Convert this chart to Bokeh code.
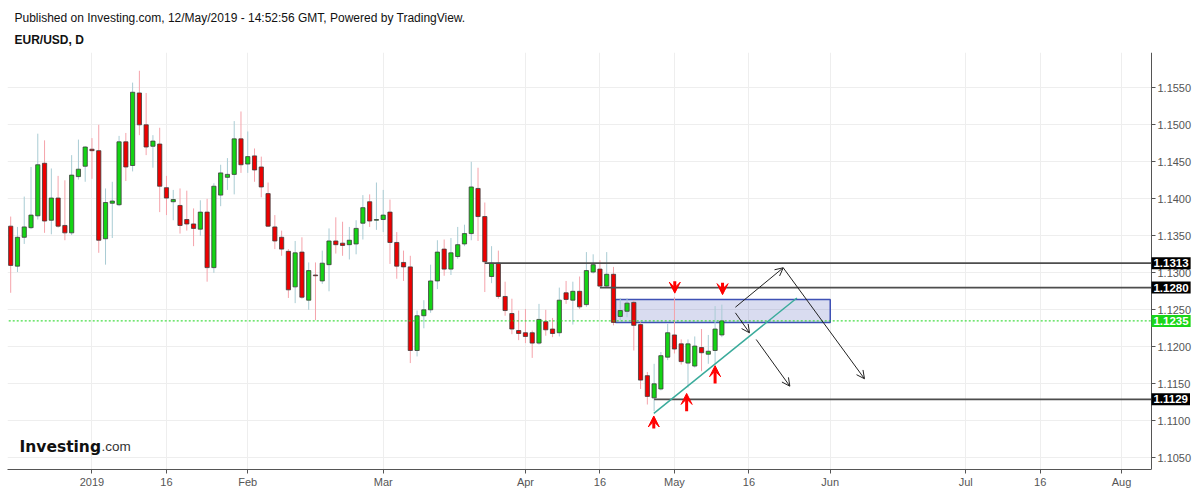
import numpy as np
from bokeh.plotting import figure
from bokeh.models import (Range1d, FixedTicker, NumeralTickFormatter, Label, Arrow,
                          OpenHead, VeeHead, BoxAnnotation, Title)
from bokeh.embed import file_html
from bokeh.resources import INLINE

# ---------------- data (EUR/USD daily, weekday index from 14 Dec 2018) ----------------
opens = [1.1363, 1.1309, 1.1348, 1.1361, 1.1377, 1.1448, 1.1371, 1.1401, 1.1364, 1.1354,
         1.1430, 1.1444, 1.1467, 1.1465, 1.1346, 1.1394, 1.1392, 1.1477, 1.1445, 1.1543,
         1.1500, 1.1471, 1.1474, 1.1415, 1.1396, 1.1391, 1.1372, 1.1366, 1.1359, 1.1382,
         1.1307, 1.1405, 1.1429, 1.1433, 1.1481, 1.1447, 1.1458, 1.1443, 1.1407, 1.1362,
         1.1348, 1.1329, 1.1281, 1.1328, 1.1263, 1.1297, 1.1289, 1.1311, 1.1343, 1.1340,
         1.1338, 1.1339, 1.1367, 1.1396, 1.1371, 1.1372, 1.1382, 1.1341, 1.1314, 1.1308,
         1.1195, 1.1242, 1.1250, 1.1289, 1.1332, 1.1305, 1.1322, 1.1339, 1.1353, 1.1414,
         1.1376, 1.1295, 1.1313, 1.1268, 1.1245, 1.1222, 1.1219, 1.1219, 1.1205, 1.1234,
         1.1224, 1.1219, 1.1273, 1.1263, 1.1275, 1.1257, 1.1301, 1.1305, 1.1282, 1.1298,
         1.1241, 1.1248, 1.1260, 1.1230, 1.1161, 1.1131, 1.1143, 1.1186, 1.1216, 1.1204,
         1.1178, 1.1174, 1.1199, 1.1190, 1.1195, 1.1216]
highs = [1.1376, 1.1362, 1.1403, 1.1443, 1.1488, 1.1479, 1.1441, 1.1431, 1.1425, 1.1459,
         1.1480, 1.1471, 1.1482, 1.1500, 1.1414, 1.1423, 1.1485, 1.1489, 1.1557, 1.1573,
         1.1543, 1.1486, 1.1496, 1.1431, 1.1412, 1.1414, 1.1411, 1.1387, 1.1398, 1.1400,
         1.1421, 1.1446, 1.1455, 1.1505, 1.1518, 1.1491, 1.1468, 1.1457, 1.1422, 1.1378,
         1.1357, 1.1332, 1.1343, 1.1348, 1.1314, 1.1314, 1.1330, 1.1360, 1.1375, 1.1369,
         1.1362, 1.1371, 1.1405, 1.1406, 1.1422, 1.1412, 1.1399, 1.1355, 1.1330, 1.1323,
         1.1249, 1.1263, 1.1311, 1.1344, 1.1345, 1.1347, 1.1362, 1.1365, 1.1450, 1.1442,
         1.1395, 1.1336, 1.1330, 1.1288, 1.1265, 1.1249, 1.1251, 1.1222, 1.1258, 1.1250,
         1.1239, 1.1280, 1.1289, 1.1288, 1.1295, 1.1328, 1.1325, 1.1317, 1.1328, 1.1308,
         1.1266, 1.1266, 1.1263, 1.1233, 1.1166, 1.1177, 1.1193, 1.1231, 1.1267, 1.1210,
         1.1210, 1.1214, 1.1224, 1.1216, 1.1255, 1.1257]
lows = [1.1273, 1.1301, 1.1339, 1.1359, 1.1372, 1.1354, 1.1352, 1.1361, 1.1344, 1.1351,
        1.1426, 1.1423, 1.1427, 1.1327, 1.1311, 1.1347, 1.1390, 1.1424, 1.1437, 1.1486,
        1.1459, 1.1442, 1.1382, 1.1378, 1.1371, 1.1353, 1.1357, 1.1336, 1.1350, 1.1288,
        1.1300, 1.1390, 1.1412, 1.1406, 1.1435, 1.1435, 1.1423, 1.1402, 1.1362, 1.1332,
        1.1323, 1.1266, 1.1259, 1.1265, 1.1250, 1.1236, 1.1285, 1.1275, 1.1326, 1.1323,
        1.1318, 1.1325, 1.1345, 1.1362, 1.1358, 1.1355, 1.1312, 1.1292, 1.1289, 1.1178,
        1.1187, 1.1225, 1.1246, 1.1278, 1.1296, 1.1297, 1.1319, 1.1336, 1.1344, 1.1343,
        1.1274, 1.1286, 1.1265, 1.1242, 1.1217, 1.1209, 1.1205, 1.1185, 1.1203, 1.1215,
        1.1213, 1.1214, 1.1258, 1.1230, 1.1251, 1.1254, 1.1299, 1.1281, 1.1281, 1.1229,
        1.1236, 1.1240, 1.1195, 1.1143, 1.1122, 1.1113, 1.1141, 1.1182, 1.1191, 1.1176,
        1.1145, 1.1172, 1.1167, 1.1177, 1.1177, 1.1213]
closes = [1.1310, 1.1348, 1.1362, 1.1378, 1.1446, 1.1370, 1.1401, 1.1363, 1.1354, 1.1432,
          1.1440, 1.1470, 1.1465, 1.1344, 1.1395, 1.1397, 1.1477, 1.1443, 1.1544, 1.1500,
          1.1470, 1.1478, 1.1417, 1.1401, 1.1399, 1.1364, 1.1366, 1.1360, 1.1382, 1.1307,
          1.1417, 1.1435, 1.1433, 1.1481, 1.1446, 1.1457, 1.1439, 1.1416, 1.1363, 1.1343,
          1.1332, 1.1277, 1.1327, 1.1267, 1.1303, 1.1296, 1.1313, 1.1343, 1.1338, 1.1337,
          1.1344, 1.1360, 1.1388, 1.1370, 1.1372, 1.1378, 1.1341, 1.1309, 1.1308, 1.1195,
          1.1242, 1.1250, 1.1289, 1.1328, 1.1305, 1.1327, 1.1338, 1.1353, 1.1416, 1.1376,
          1.1315, 1.1313, 1.1268, 1.1249, 1.1224, 1.1218, 1.1214, 1.1205, 1.1237, 1.1223,
          1.1218, 1.1263, 1.1264, 1.1275, 1.1254, 1.1303, 1.1311, 1.1282, 1.1298, 1.1233,
          1.1249, 1.1259, 1.1229, 1.1155, 1.1133, 1.1150, 1.1188, 1.1219, 1.1197, 1.1180,
          1.1204, 1.1201, 1.1192, 1.1194, 1.1224, 1.1235]

x_ticks = [12, 23, 35, 55, 76, 87, 98, 109, 121, 141, 152, 164]
x_tick_labels = ["2019", "16", "Feb", "Mar", "Apr", "16", "May", "16", "Jun", "Jul", "16", "Aug"]
y_ticks = [1.1050, 1.1100, 1.1150, 1.1200, 1.1250, 1.1300, 1.1350, 1.1400, 1.1450, 1.1500, 1.1550]

level_prices = [1.1313, 1.1280, 1.1129]
level_starts = [70, 87, 95]

zone_left, zone_right = 89.3, 121.0
zone_bottom, zone_top = 1.1233, 1.1264

trend_x = [94.96, 116.08]
trend_y = [1.1110, 1.1266]

# projection arrows: (x_start, y_start, x_end, y_end)
proj_arrows = [(107.0, 1.12535, 114.06, 1.13068),
               (114.06, 1.13068, 126.06, 1.11568),
               (107.0, 1.12459, 109.08, 1.12189),
               (110.07, 1.12099, 115.04, 1.11468)]
# red markers: (x, y_tail, y_tip)
red_marks = [(98.05, 1.12885, 1.12725),
             (105.1, 1.12865, 1.12705),
             (94.95, 1.10895, 1.11065),
             (99.8, 1.11130, 1.11370),
             (104.0, 1.11505, 1.11745)]

# ---------------- figure ----------------
W, H = 1200, 491
MB_L, MB_R, MB_T, MB_B = 7, 0, 52, 22
X_LO, X_HI = -0.472, 175.67
AXIS_X = 168.43          # where the price scale sits
FONT = "Liberation Sans"

p = figure(width=W, height=H, x_range=Range1d(X_LO, X_HI), y_range=Range1d(1.10342, 1.15977),
           y_axis_location="right", toolbar_location=None, output_backend="svg",
           min_border_left=MB_L, min_border_right=MB_R, min_border_top=MB_T,
           min_border_bottom=MB_B)
p.outline_line_color = None
p.background_fill_color = "white"

for ax in (p.xaxis[0], p.yaxis[0]):
    ax.axis_line_color = "#555555"
    ax.major_tick_line_color = "#555555"
    ax.major_tick_in = 0
    ax.major_tick_out = 4
    ax.minor_tick_line_color = None
    ax.major_label_text_font = FONT
    ax.major_label_text_font_size = "11px"
    ax.major_label_text_color = "#555555"
    ax.major_label_standoff = 2

p.yaxis.fixed_location = AXIS_X
p.xaxis.bounds = (X_LO - 1, AXIS_X)
p.xaxis.ticker = FixedTicker(ticks=x_ticks)
p.xaxis.major_label_overrides = {t: l for t, l in zip(x_ticks, x_tick_labels)}
p.yaxis.ticker = FixedTicker(ticks=y_ticks)
p.yaxis.formatter = NumeralTickFormatter(format="0.0000")
p.xgrid.ticker = FixedTicker(ticks=x_ticks)
p.ygrid.ticker = FixedTicker(ticks=y_ticks)
p.grid.grid_line_color = "#eeeeee"

# blank the price-scale strip
p.add_layout(BoxAnnotation(left=AXIS_X, fill_color="white", fill_alpha=1.0,
                           line_color=None, level="underlay"))

# header
p.add_layout(Title(text="EUR/USD, D", align="left", offset=4, standoff=5, padding=3,
                   text_font=FONT, text_font_size="12px", text_font_style="bold",
                   text_color="#111111"), "above")
p.add_layout(Title(text="Published on Investing.com, 12/May/2019 - 14:52:56 GMT, Powered by TradingView.",
                   align="left", offset=7, standoff=2, text_font=FONT, text_font_size="12px",
                   text_font_style="normal", text_color="#111111"), "above")

# zone rectangle
p.quad(left=[zone_left], right=[zone_right], bottom=[zone_bottom], top=[zone_top],
       fill_color="#3f51b5", fill_alpha=0.2, line_color="#3f51b5", line_width=1.5)

# candles
o = np.array(opens); h = np.array(highs); l = np.array(lows); c = np.array(closes)
idx = np.arange(len(o))
inc = c >= o
dec = ~inc
p.segment(idx[inc], h[inc], idx[inc], l[inc], line_color="#a9ccd4", line_width=1)
p.segment(idx[dec], h[dec], idx[dec], l[dec], line_color="#f5a3ab", line_width=1)
p.vbar(x=idx[inc], width=0.62, bottom=o[inc], top=c[inc], fill_color="#14d414",
       line_color="#3c3c3c", line_width=0.8)
p.vbar(x=idx[dec], width=0.62, bottom=c[dec], top=o[dec], fill_color="#ee0000",
       line_color="#3c3c3c", line_width=0.8)

# last price dotted line
p.segment(x0=[X_LO - 1], y0=[closes[-1]], x1=[AXIS_X], y1=[closes[-1]],
          line_color="#19d619", line_dash="2 2", line_width=1)

# horizontal levels
p.segment(x0=level_starts, y0=level_prices, x1=[AXIS_X] * len(level_prices), y1=level_prices,
          line_color="#4d4d4d", line_width=1.8)

# trend line
p.line(trend_x, trend_y, line_color="#3aab9b", line_width=1.5)

# projection arrows
for x0, y0, x1, y1 in proj_arrows:
    p.add_layout(Arrow(x_start=x0, y_start=y0, x_end=x1, y_end=y1, line_color="#222222",
                       line_width=1, end=OpenHead(size=8, line_color="#222222", line_width=1)))

# red markers
for x, y0, y1 in red_marks:
    p.add_layout(Arrow(x_start=x, y_start=y0, x_end=x, y_end=y1, line_color="#ff0000",
                       line_width=3, end=VeeHead(size=11, fill_color="#ff0000",
                                                 line_color="#ff0000", line_width=1)))

# price tags on the scale
for price in level_prices:
    p.add_layout(Label(x=AXIS_X, y=price, text=f"{price:.4f}", text_color="white",
                       text_font=FONT, text_font_size="11.5px", text_font_style="bold",
                       text_baseline="middle", background_fill_color="black", padding=2))
p.add_layout(Label(x=AXIS_X, y=closes[-1], text=f"{closes[-1]:.4f}", text_color="white",
                   text_font=FONT, text_font_size="11.5px", text_font_style="bold",
                   text_baseline="middle", background_fill_color="#19d619", padding=2))

# logo
p.add_layout(Label(x=12, y=23, x_units="screen", y_units="screen", text="Investing",
                   text_font="DejaVu Sans", text_font_size="15.5px", text_font_style="bold",
                   text_color="#111111", text_baseline="alphabetic"))
p.add_layout(Label(x=94, y=23, x_units="screen", y_units="screen", text=".com",
                   text_font=FONT, text_font_size="13.5px", text_color="#333333",
                   text_baseline="alphabetic"))

open("out.html", "w").write(file_html(p, INLINE))
